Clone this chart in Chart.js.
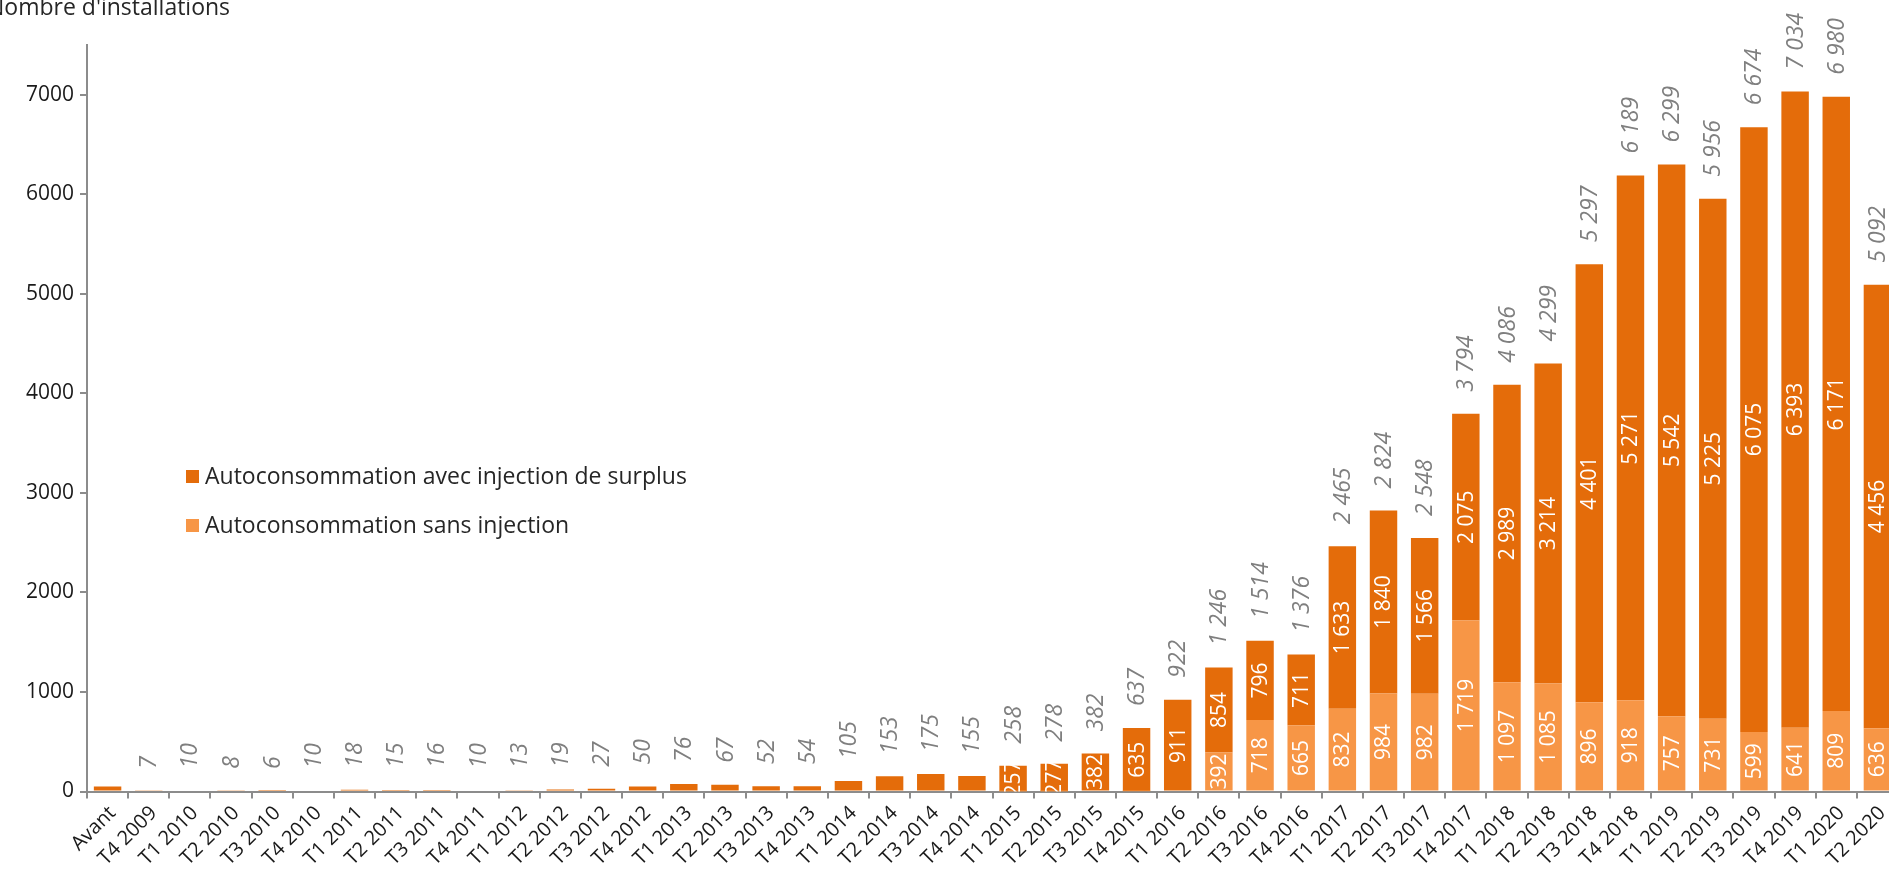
<!DOCTYPE html>
<html lang="fr">
<head>
<meta charset="utf-8">
<title>Autoconsommation</title>
<script src="https://cdn.jsdelivr.net/npm/chart.js@4/dist/chart.umd.min.js"></script>
<style>
    html, body { margin: 0; padding: 0; background: #fff; overflow: hidden; }
    #wrap { position: relative; width: 1898px; height: 871px; }
    #ytitle {
        position: absolute; left: -13px; top: -10px;
        font: 23px "Open Sans", sans-serif; color: #262626; white-space: nowrap;
    }
</style>
</head>
<body>
<div id="wrap">
    <canvas id="chart"></canvas>
    <div id="ytitle">Nombre d'installations</div>
</div>
<script>
const QUARTERS = [
    "Avant", "T4 2009",
    "T1 2010", "T2 2010", "T3 2010", "T4 2010",
    "T1 2011", "T2 2011", "T3 2011", "T4 2011",
    "T1 2012", "T2 2012", "T3 2012", "T4 2012",
    "T1 2013", "T2 2013", "T3 2013", "T4 2013",
    "T1 2014", "T2 2014", "T3 2014", "T4 2014",
    "T1 2015", "T2 2015", "T3 2015", "T4 2015",
    "T1 2016", "T2 2016", "T3 2016", "T4 2016",
    "T1 2017", "T2 2017", "T3 2017", "T4 2017",
    "T1 2018", "T2 2018", "T3 2018", "T4 2018",
    "T1 2019", "T2 2019", "T3 2019", "T4 2019",
    "T1 2020", "T2 2020"
];

const AVEC_INJECTION = [
    50, 7,
    10, 8, 6, 10,
    18, 15, 16, 10,
    13, 19, 27, 50,
    76, 67, 52, 54,
    105, 153, 175, 155,
    257, 277, 382, 635,
    911, 854, 796, 711,
    1633, 1840, 1566, 2075,
    2989, 3214, 4401, 5271,
    5542, 5225, 6075, 6393,
    6171, 4456
];

const SANS_INJECTION = [
    0, 0,
    0, 0, 0, 0,
    0, 0, 0, 0,
    0, 0, 0, 0,
    0, 0, 0, 0,
    0, 0, 0, 0,
    1, 1, 0, 2,
    11, 392, 718, 665,
    832, 984, 982, 1719,
    1097, 1085, 896, 918,
    757, 731, 599, 641,
    809, 636
];

// quarterly totals printed above the bars (none for "Avant")
const TOTALS = [
    null, 7,
    10, 8, 6, 10,
    18, 15, 16, 10,
    13, 19, 27, 50,
    76, 67, 52, 54,
    105, 153, 175, 155,
    258, 278, 382, 637,
    922, 1246, 1514, 1376,
    2465, 2824, 2548, 3794,
    4086, 4299, 5297, 6189,
    6299, 5956, 6674, 7034,
    6980, 5092
];

const Y_TICKS = [0, 1000, 2000, 3000, 4000, 5000, 6000, 7000];
const Y_MAX = 7500;

const DARK = "#E46C0A";
const LIGHT = "#F79646";
const AXIS_GREY = "#8C8C8C";
const FONT = "'Open Sans', sans-serif";
const INSIDE_LABEL_MIN = 250;

function fmt(v) {
    return String(v).replace(/\B(?=(\d{3})+(?!\d))/g, " ");
}

const barLabels = {
    id: "barLabels",
    afterDatasetsDraw(chart) {
        const ctx = chart.ctx;
        const area = chart.chartArea;
        const yScale = chart.scales.y;

        // values inside the segments, cut off at the axis
        ctx.save();
        ctx.beginPath();
        ctx.rect(area.left, 0, area.right - area.left, area.bottom);
        ctx.clip();
        ctx.font = "21px " + FONT;
        ctx.fillStyle = "#fff";
        ctx.textAlign = "center";
        ctx.textBaseline = "middle";
        chart.data.datasets.forEach((ds, di) => {
            chart.getDatasetMeta(di).data.forEach((bar, i) => {
                const v = ds.data[i];
                if (v < INSIDE_LABEL_MIN) return;
                ctx.save();
                ctx.translate(bar.x, (bar.y + bar.base) / 2);
                ctx.rotate(-Math.PI / 2);
                ctx.fillText(fmt(v), 0, 1);
                ctx.restore();
            });
        });
        ctx.restore();

        // totals above each stack
        ctx.save();
        ctx.font = "italic 23px " + FONT;
        ctx.fillStyle = "#7F7F7F";
        ctx.textAlign = "left";
        ctx.textBaseline = "middle";
        const xMeta = chart.getDatasetMeta(0);
        TOTALS.forEach((t, i) => {
            if (t === null) return;
            const x = xMeta.data[i].x;
            const y = yScale.getPixelForValue(t) - 22;
            ctx.save();
            ctx.translate(x, y);
            ctx.rotate(-Math.PI / 2);
            ctx.fillText(fmt(t), 0, 1);
            ctx.restore();
        });
        ctx.restore();
    },
    afterDraw(chart) {
        // legend sits inside the plot, top entry = upper segment
        const ctx = chart.ctx;
        const items = [
            { text: chart.data.datasets[1].label, color: DARK, y: 476 },
            { text: chart.data.datasets[0].label, color: LIGHT, y: 525 }
        ];
        ctx.save();
        ctx.font = "23px " + FONT;
        ctx.textBaseline = "middle";
        ctx.textAlign = "left";
        items.forEach(it => {
            ctx.fillStyle = it.color;
            ctx.fillRect(186, it.y - 6, 13, 13);
            ctx.fillStyle = "#262626";
            ctx.fillText(it.text, 205, it.y + 1);
        });
        ctx.restore();
    }
};

const ctx = document.getElementById("chart").getContext("2d");
new Chart(ctx, {
    type: "bar",
    data: {
        labels: QUARTERS,
        datasets: [
            {
                label: "Autoconsommation sans injection",
                data: SANS_INJECTION,
                backgroundColor: LIGHT
            },
            {
                label: "Autoconsommation avec injection de surplus",
                data: AVEC_INJECTION,
                backgroundColor: DARK
            }
        ]
    },
    options: {
        responsive: true,
        maintainAspectRatio: false,
        animation: false,
        layout: { padding: { top: 45, left: 0, right: 0, bottom: 0 } },
        datasets: {
            bar: { categoryPercentage: 1.0, barPercentage: 0.667 }
        },
        plugins: {
            legend: { display: false },
            tooltip: { enabled: false }
        },
        scales: {
            x: {
                stacked: true,
                offset: true,
                grid: {
                    offset: true,
                    drawOnChartArea: false,
                    color: AXIS_GREY,
                    lineWidth: 2,
                    tickLength: 7
                },
                border: { color: AXIS_GREY, width: 2 },
                ticks: {
                    autoSkip: false,
                    maxRotation: 45,
                    minRotation: 45,
                    padding: 3,
                    labelOffset: 5,
                    color: "#1A1A1A",
                    font: { family: FONT, size: 20 }
                },
                afterFit(scale) { scale.height = 79.5; }
            },
            y: {
                stacked: true,
                min: 0,
                max: Y_MAX,
                afterBuildTicks(scale) {
                    scale.ticks = Y_TICKS.map(v => ({ value: v }));
                },
                grid: {
                    drawOnChartArea: false,
                    color: AXIS_GREY,
                    lineWidth: 2,
                    tickLength: 7
                },
                border: { color: AXIS_GREY, width: 2 },
                ticks: {
                    padding: 6,
                    color: "#1A1A1A",
                    font: { family: FONT, size: 21 },
                    callback: v => String(v)
                },
                afterFit(scale) { scale.width = 87; }
            }
        }
    },
    plugins: [barLabels]
});
</script>
</body>
</html>
